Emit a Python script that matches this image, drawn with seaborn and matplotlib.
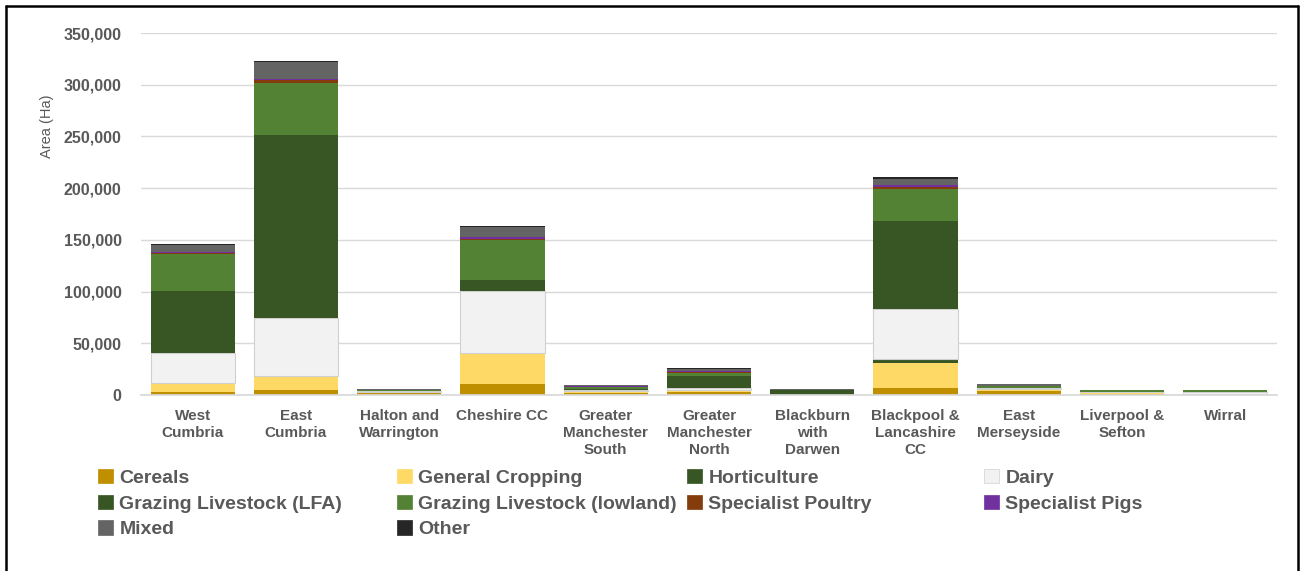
import pandas as pd
import matplotlib
matplotlib.use('Agg')
import matplotlib.pyplot as plt
from matplotlib.patches import Patch
from matplotlib.lines import Line2D
import seaborn as sns

# Areas (Ha) by farm type for each sub-region
areas = ['West\nCumbria', 'East\nCumbria', 'Halton and\nWarrington', 'Cheshire CC',
         'Greater\nManchester\nSouth', 'Greater\nManchester\nNorth', 'Blackburn\nwith\nDarwen',
         'Blackpool &\nLancashire\nCC', 'East\nMerseyside', 'Liverpool &\nSefton', 'Wirral']

cereals = [2600, 4800, 2000, 10600, 1500, 2500, 0, 6400, 4000, 1000, 400]
general_cropping = [7700, 12300, 1000, 28700, 1500, 1500, 0, 24800, 1800, 1500, 800]
horticulture = [1000, 1000, 200, 1000, 700, 1000, 0, 3500, 300, 200, 100]
dairy = [29000, 56000, 600, 60500, 700, 2000, 300, 48100, 300, 200, 1200]
grazing_lfa = [60500, 177000, 0, 10300, 1800, 11000, 4300, 85300, 0, 0, 0]
grazing_lowland = [35400, 51000, 1200, 38600, 1500, 3500, 600, 30900, 2300, 1800, 2400]
poultry = [1000, 2900, 100, 1300, 200, 300, 0, 1900, 100, 0, 0]
pigs = [1000, 500, 0, 1300, 1000, 1200, 0, 2200, 200, 0, 0]
mixed = [7000, 16000, 500, 10300, 500, 2300, 200, 5800, 1600, 0, 0]
other = [1000, 1300, 0, 1000, 100, 500, 0, 1900, 0, 0, 0]

types = ['Cereals', 'General Cropping', 'Horticulture', 'Dairy', 'Grazing Livestock (LFA)',
         'Grazing Livestock (lowland)', 'Specialist Poultry', 'Specialist Pigs', 'Mixed', 'Other']
series = [cereals, general_cropping, horticulture, dairy, grazing_lfa,
          grazing_lowland, poultry, pigs, mixed, other]
colors = ['#BF8F00', '#FFD966', '#375623', '#F2F2F2', '#375623',
          '#548235', '#843C0C', '#7030A0', '#646464', '#262626']

rows = []
for t, vals in zip(types, series):
    for a, v in zip(areas, vals):
        rows.append({'area': a, 'type': t, 'ha': v})
df = pd.DataFrame(rows)

sns.set_theme(style='white')
plt.rcParams['font.family'] = ['Liberation Sans', 'DejaVu Sans']
grey = '#595959'

fig = plt.figure(figsize=(13.04, 5.71), dpi=100)
ax = fig.add_axes([141 / 1304, 1 - 395 / 571, 1136 / 1304, 362 / 571])

# seaborn stacks with the last hue level at the bottom
sns.histplot(data=df, x='area', weights='ha', hue='type', hue_order=types[::-1],
             palette=dict(zip(types, colors)), multiple='stack', discrete=True,
             shrink=0.815, alpha=1, linewidth=0, legend=False, ax=ax)

# hide empty segments, outline the pale dairy blocks
for p in ax.patches:
    if p.get_height() <= 0:
        p.set_visible(False)
    elif matplotlib.colors.to_hex(p.get_facecolor()) == '#f2f2f2':
        p.set_edgecolor('#D0D0D0')
        p.set_linewidth(0.8)

ax.set_ylim(0, 350000)
ax.set_xlim(-0.5, len(areas) - 0.5)
ax.set_yticks(range(0, 350001, 50000))
ax.set_yticklabels([f'{v:,}' for v in range(0, 350001, 50000)],
                   fontsize=11.5, fontweight='bold', color=grey)
ax.set_xticks(range(len(areas)))
ax.set_xticklabels(areas, fontsize=11, fontweight='bold', color=grey, linespacing=1.3)
ax.tick_params(axis='both', length=0)
ax.tick_params(axis='x', pad=10)
ax.tick_params(axis='y', pad=14)
ax.yaxis.grid(True, color='#D9D9D9', linewidth=1)
ax.set_axisbelow(True)
for s in ['top', 'right', 'left']:
    ax.spines[s].set_visible(False)
ax.spines['bottom'].set_color('#D9D9D9')
ax.set_xlabel('')
ax.set_ylabel('')
fig.text(47 / 1304, 1 - 126 / 571, 'Area (Ha)', rotation=90, ha='center', va='center',
         fontsize=10.5, color=grey)

# legend laid out row-wise in four fixed-width columns
col_x = [98, 397, 687, 984]
for c in range(4):
    idx = [i for i in range(len(types)) if i % 4 == c]
    handles = [Patch(facecolor=colors[i], edgecolor='#D0D0D0' if types[i] == 'Dairy' else colors[i],
                     linewidth=0.5) for i in idx]
    labels = [types[i] for i in idx]
    fig.legend(handles, labels, loc='upper left', bbox_to_anchor=(col_x[c] / 1304, 1 - 469 / 571),
               frameon=False, handlelength=0.75, handleheight=0.75, handletextpad=0.35,
               labelspacing=0.4, borderpad=0, borderaxespad=0,
               prop={'weight': 'bold', 'size': 14}, labelcolor=grey)

# black frame around the chart
for xs, ys in [([6, 6], [571, 6]), ([6, 1298], [6, 6]), ([1298, 1298], [6, 571])]:
    fig.add_artist(Line2D([x / 1304 for x in xs], [1 - y / 571 for y in ys],
                          color='black', linewidth=1.8))

fig.savefig('out.png', dpi=100)
